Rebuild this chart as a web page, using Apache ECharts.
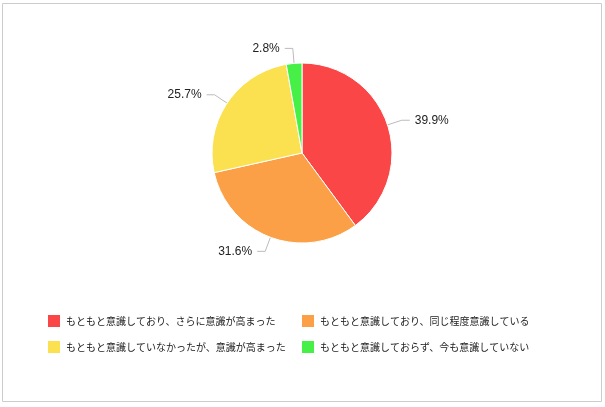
<!DOCTYPE html>
<html>
<head>
<meta charset="utf-8">
<script src="https://cdn.jsdelivr.net/npm/echarts@6/dist/echarts.min.js"></script>
<style>
html, body { margin: 0; padding: 0; background: #fff; }
#main { width: 605px; height: 407px; }
</style>
</head>
<body>
<div id="main"></div>
<script>
// 回答カテゴリ
var categories = [
    'もともと意識しており、さらに意識が高まった',
    'もともと意識しており、同じ程度意識している',
    'もともと意識していなかったが、意識が高まった',
    'もともと意識しておらず、今も意識していない'
];
// 割合(%)
var values = [39.9, 31.6, 25.7, 2.8];
var colors = ['#fa4646', '#fba046', '#fbe150', '#46f046'];

var chart = echarts.init(document.getElementById('main'));

var pieData = [];
for (var i = 0; i < categories.length; i++) {
    pieData.push({ name: categories[i], value: values[i], itemStyle: { color: colors[i] } });
}

var legendText = { fontFamily: 'Noto Sans CJK JP', fontSize: 10, color: '#222' };

chart.setOption({
    animation: false,
    // 外枠
    graphic: [{
        type: 'rect',
        shape: { x: 2.5, y: 3.5, width: 599, height: 398 },
        style: { fill: 'none', stroke: '#cccccc', lineWidth: 1 }
    }],
    // 凡例は2列
    legend: [{
        orient: 'vertical',
        left: 41, top: 308,
        itemWidth: 14, itemHeight: 14, itemGap: 10,
        icon: 'rect',
        data: [categories[0], categories[2]],
        textStyle: legendText
    }, {
        orient: 'vertical',
        left: 295, top: 308,
        itemWidth: 14, itemHeight: 14, itemGap: 10,
        icon: 'rect',
        data: [categories[1], categories[3]],
        textStyle: legendText
    }],
    series: [{
        type: 'pie',
        center: [302, 153],
        radius: 90,
        startAngle: 90,
        clockwise: true,
        itemStyle: { borderColor: '#fff', borderWidth: 1 },
        label: {
            formatter: '{c}%',
            fontFamily: 'Liberation Sans',
            fontSize: 12,
            color: '#222'
        },
        labelLine: {
            length: 15,
            length2: 8,
            lineStyle: { color: '#bbbbbb', width: 1 }
        },
        emphasis: { disabled: true },
        data: pieData
    }]
});
</script>
</body>
</html>
